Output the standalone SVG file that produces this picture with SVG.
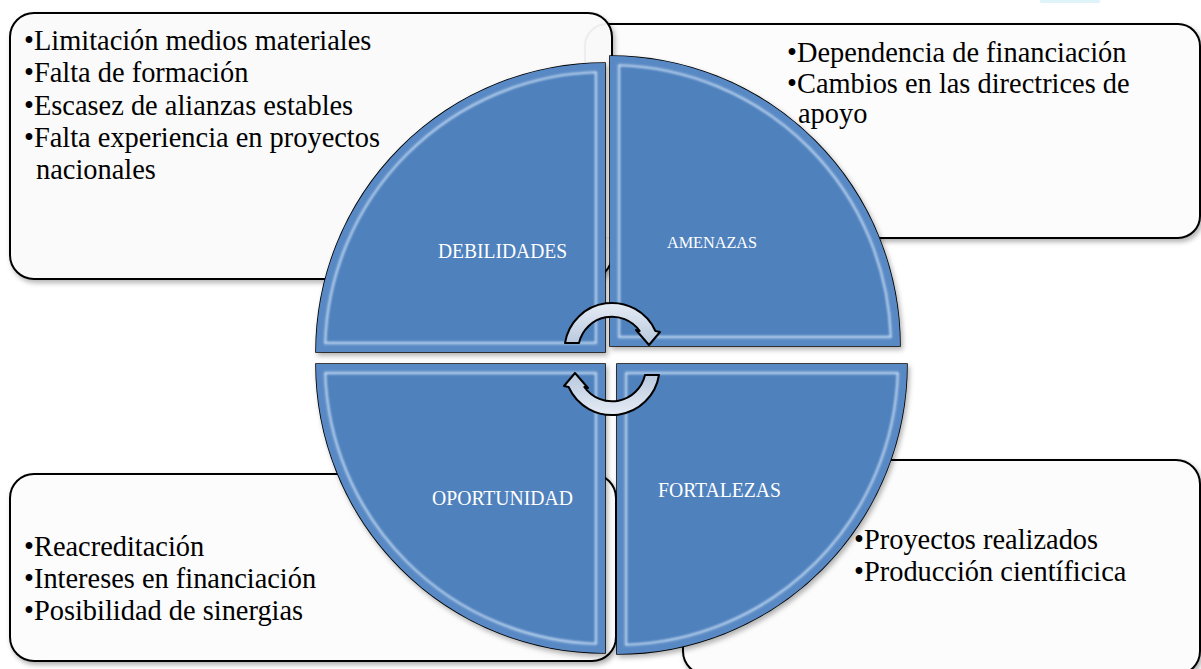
<svg xmlns="http://www.w3.org/2000/svg" width="1201" height="669" viewBox="0 0 1201 669">
<defs>
<style>
.box{fill:#fcfcfc;stroke:#000;stroke-width:2}
.q{fill:#4F81BD;stroke:#000;stroke-width:1.6}
.band{fill:none;stroke:#5889c4;stroke-width:14}
.hl{fill:none;stroke:#cfe3f9;stroke-width:2.4;opacity:0.85}
.t{font-family:"Liberation Serif","Times New Roman",serif;font-size:28.4px;fill:#000}
.lbl{font-family:"Liberation Serif","Times New Roman",serif;font-size:20px;fill:#fff;text-anchor:middle}
.arr{fill:url(#arrowFill);stroke:#000;stroke-width:2;stroke-linejoin:round}
</style>
<filter id="sh" x="-10%" y="-10%" width="125%" height="125%">
<feDropShadow dx="2" dy="3" stdDeviation="2.5" flood-color="#000" flood-opacity="0.3"/>
</filter>
<filter id="blur" x="-5%" y="-5%" width="110%" height="110%">
<feGaussianBlur stdDeviation="1.1"/>
</filter>
<linearGradient id="arrowFill" x1="0" y1="0" x2="0" y2="1">
<stop offset="0" stop-color="#e6ecf5"/>
<stop offset="1" stop-color="#b8c8de"/>
</linearGradient>
<clipPath id="cDeb"><path d="M605,352 L316,352 A289 289 0 0 1 605,63 Z"/></clipPath>
<clipPath id="cAme"><path d="M610,346 L610,56 A290 290 0 0 1 900,346 Z"/></clipPath>
<clipPath id="cFor"><path d="M617,364 L907,364 A290 290 0 0 1 617,654 Z"/></clipPath>
<clipPath id="cOpo"><path d="M605,364 L605,653 A289 289 0 0 1 316,364 Z"/></clipPath>
</defs>

<rect x="1040" y="0" width="60" height="3" rx="1" fill="#dff4f8"/>

<g id="box-amenazas">
<rect class="box" x="585" y="24" width="615" height="214" rx="22" filter="url(#sh)"/>
<text class="t" x="787" y="62">•Dependencia de financiación</text>
<text class="t" x="787" y="93">•Cambios en las directrices de</text>
<text class="t" x="798" y="123">apoyo</text>
</g>

<g id="box-debilidades">
<rect class="box" x="10" y="13" width="602" height="266" rx="24" fill-opacity="0.93" filter="url(#sh)"/>
<text class="t" x="24" y="50">•Limitación medios materiales</text>
<text class="t" x="24" y="82">•Falta de formación</text>
<text class="t" x="24" y="115">•Escasez de alianzas estables</text>
<text class="t" x="24" y="147">•Falta experiencia en proyectos</text>
<text class="t" x="36" y="179">nacionales</text>
</g>

<g id="box-fortalezas">
<rect class="box" x="683" y="460" width="517" height="215" rx="24" filter="url(#sh)"/>
<text class="t" x="854" y="549">•Proyectos realizados</text>
<text class="t" x="854" y="581">•Producción científicica</text>
</g>

<g id="box-oportunidad">
<rect class="box" x="10" y="474" width="606" height="187" rx="24" filter="url(#sh)"/>
<text class="t" x="24" y="556">•Reacreditación</text>
<text class="t" x="24" y="588">•Intereses en financiación</text>
<text class="t" x="24" y="620">•Posibilidad de sinergias</text>
</g>

<g id="q-debilidades">
<path class="q" filter="url(#sh)" d="M605,352 L316,352 A289 289 0 0 1 605,63 Z"/>
<path class="band" clip-path="url(#cDeb)" d="M605,352 L316,352 A289 289 0 0 1 605,63 Z"/>
<path class="hl" filter="url(#blur)" d="M596,343 L325.14,343 A280 280 0 0 1 596,72.14 Z"/>
<text class="lbl" x="502.5" y="258" textLength="129" lengthAdjust="spacingAndGlyphs">DEBILIDADES</text>
</g>

<g id="q-amenazas">
<path class="q" filter="url(#sh)" d="M610,346 L610,56 A290 290 0 0 1 900,346 Z"/>
<path class="band" clip-path="url(#cAme)" d="M610,346 L610,56 A290 290 0 0 1 900,346 Z"/>
<path class="hl" filter="url(#blur)" d="M619,337 L619,65.14 A281 281 0 0 1 890.86,337 Z"/>
<text class="lbl" x="712" y="248" style="font-size:17px" textLength="90" lengthAdjust="spacingAndGlyphs">AMENAZAS</text>
</g>

<g id="q-fortalezas">
<path class="q" filter="url(#sh)" d="M617,364 L907,364 A290 290 0 0 1 617,654 Z"/>
<path class="band" clip-path="url(#cFor)" d="M617,364 L907,364 A290 290 0 0 1 617,654 Z"/>
<path class="hl" filter="url(#blur)" d="M626,373 L897.86,373 A281 281 0 0 1 626,644.86 Z"/>
<text class="lbl" x="719.5" y="497" textLength="123" lengthAdjust="spacingAndGlyphs">FORTALEZAS</text>
</g>

<g id="q-oportunidad">
<path class="q" filter="url(#sh)" d="M605,364 L605,653 A289 289 0 0 1 316,364 Z"/>
<path class="band" clip-path="url(#cOpo)" d="M605,364 L605,653 A289 289 0 0 1 316,364 Z"/>
<path class="hl" filter="url(#blur)" d="M596,373 L596,643.86 A280 280 0 0 1 325.14,373 Z"/>
<text class="lbl" x="502.5" y="505" textLength="141" lengthAdjust="spacingAndGlyphs">OPORTUNIDAD</text>
</g>

<g id="connectors">
<path class="arr" d="M565,343 A47.6 47.6 0 0 1 655.4,331 L660,332 L649,345 L636,330 L639.7,331 A33.9 33.9 0 0 0 579,343 Z"/>
<path class="arr" transform="rotate(180 612 359)" d="M565,343 A47.6 47.6 0 0 1 655.4,331 L660,332 L649,345 L636,330 L639.7,331 A33.9 33.9 0 0 0 579,343 Z"/>
</g>
</svg>
